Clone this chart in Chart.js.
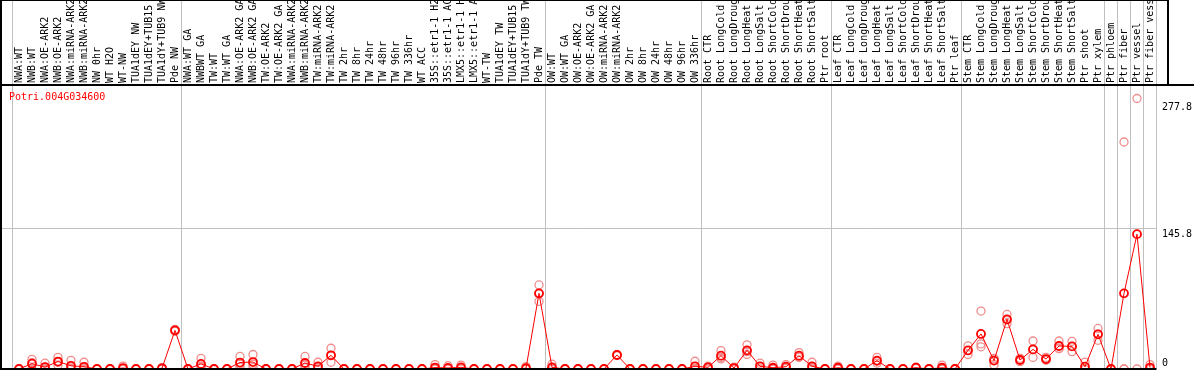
<!DOCTYPE html>
<html><head><meta charset="utf-8">
<script src="https://cdn.jsdelivr.net/npm/chart.js@4.4.1/dist/chart.umd.min.js"></script>
<style>html,body{margin:0;padding:0;background:#fff;overflow:hidden}#wrap{width:1194px;height:370px;position:relative}</style>
</head><body><div id="wrap"><canvas id="c" width="1194" height="370"></canvas></div>
<script>
const categories = [
  'NWA:WT','NWB:WT','NWA:OE-ARK2','NWB:OE-ARK2','NWA:miRNA-ARK2','NWB:miRNA-ARK2','NW 0hr','WT H2O','WT-NW',
  'TUA1dEY NW','TUA1dEY+TUB15 NW','TUA1dY+TUB9 NW','Pde NW',
  'NWA:WT GA','NWBWT GA','TW:WT','TW:WT GA','NWA:OE-ARK2 GA','NWB:OE-ARK2 GA','TW:OE-ARK2','TW:OE-ARK2 GA',
  'NWA:miRNA-ARK2','NWB:miRNA-ARK2','TW:miRNA-ARK2','TW:miRNA-ARK2','TW 2hr','TW 8hr','TW 24hr','TW 48hr','TW 96hr','TW 336hr',
  'WT ACC','35S::etr1-1 H2O','35S::etr1-1 ACC','LMX5::etr1-1 H2O','LMX5::etr1-1 ACC','WT-TW',
  'TUA1dEY TW','TUA1dEY+TUB15 TW','TUA1dY+TUB9 TW','Pde TW',
  'OW:WT','OW:WT GA','OW:OE-ARK2','OW:OE-ARK2 GA','OW:miRNA-ARK2','OW:miRNA-ARK2','OW 2hr','OW 8hr','OW 24hr','OW 48hr','OW 96hr','OW 336hr',
  'Root CTR','Root LongCold','Root LongDrought','Root LongHeat','Root LongSalt','Root ShortCold','Root ShortDrought','Root ShortHeat','Root ShortSalt','Ptr root',
  'Leaf CTR','Leaf LongCold','Leaf LongDrought','Leaf LongHeat','Leaf LongSalt','Leaf ShortCold','Leaf ShortDrought','Leaf ShortHeat','Leaf ShortSalt','Ptr leaf',
  'Stem CTR','Stem LongCold','Stem LongDrought','Stem LongHeat','Stem LongSalt','Stem ShortCold','Stem ShortDrought','Stem ShortHeat','Stem ShortSalt',
  'Ptr shoot','Ptr xylem','Ptr phloem','Ptr fiber','Ptr vessel','Ptr fiber vessel'
];
const meanValues = [
  0,5.5,2,7.7,3.3,2.3,0,0,1,0,0,0.7,40,
  0,5.3,0,0,6.7,7.2,0,0,0,6.2,2.8,14.2,0,0,0,0,0,0,0,1.5,1.1,1.7,0,0,0,0,0.8,78.3,
  1.7,0,0,0,0,14.5,0,0,0,0,0,2.8,
  1.7,13.8,1,19.3,2.8,1.3,2.4,13.8,2.8,0,
  1.3,0,0,8.7,0,0,1.4,0,1.3,0,
  19.3,36.3,8.7,51.4,9.3,20.3,10.3,23.8,23.4,
  2.4,35.9,0,78.3,139.6,1.5
];
const rep1 = [
  0,10,6,12,9,7,0,0,3,0,0,1.5,41,
  0,11,0,0,13,15,0,0,0,13,7,21.5,0,0,0,0,0,0,0,4.5,3.4,4,0,0,0,0,2.5,87,
  5,0,0,0,0,15,0,0,0,0,0,8,
  3,19,2,25,6,4,4.5,17,7,0,
  3,0,0,12,0,0,2,0,4,0,
  24,60,11,56.5,11,29,12,29,28.6,
  7.2,42,0,235,280,4.5
];
const rep2 = [
  0,6.5,0,7,1,0,0,0,0,0,0,0.5,40,
  0,3,0,0,5,5,0,0,0,4,1.5,14,0,0,0,0,0,0,0,0,0,1,0,0,0,0,0,78,
  0,0,0,0,0,14.5,0,0,0,0,0,0.5,
  2,12,1,18,2.5,0,2,12.5,1.5,0,
  1,0,0,8,0,0,1.5,0,0,0,
  19,26,10.5,51,9.3,20,10,21.5,23.5,
  0,36,0,0,0,0
];
const rep3 = [
  0,0,0,4,0,0,0,0,0,0,0,0,39,
  0,2,0,0,2,1.5,0,0,0,1.5,0,7,0,0,0,0,0,0,0,0,0,0,0,0,0,0,0,70,
  0,0,0,0,0,14,0,0,0,0,0,0,
  0,10.5,0,15,0,0,0.7,12,0,0,
  0,0,0,6,0,0,0.7,0,0,0,
  15,23,4.5,47,7.6,12,9,21,18,
  0,29.7,0,0,null,0
];
const yTickValues = [277.8, 145.8, 0];
const gridValue = 145.8;
const groupBreaks = [-0.5, 12.5, 40.5, 52.5, 62.5, 72.5, 83.5, 84.5, 85.5, 86.5, 87.5];
const geneName = 'Potri.004G034600';

const MONO = "'DejaVu Sans Mono', 'Liberation Mono', monospace";
const RED = '#ff0000';
const PINK = '#f08c8c';

const decorPlugin = {
  id: 'decor',
  beforeDraw(chart) {
    const ctx = chart.ctx;
    ctx.save();
    ctx.fillStyle = '#fff';
    ctx.fillRect(0, 0, chart.width, chart.height);
    ctx.restore();
  },
  beforeDatasetsDraw(chart) {
    const ctx = chart.ctx, x = chart.scales.x, y = chart.scales.y, a = chart.chartArea;
    ctx.save();
    ctx.strokeStyle = '#c0c0c0';
    ctx.lineWidth = 1;
    groupBreaks.forEach(b => {
      const px = Math.round(x.getPixelForValue(b)) - 0.5;
      ctx.beginPath(); ctx.moveTo(px, 0); ctx.lineTo(px, a.bottom); ctx.stroke();
    });
    const gy = Math.round(y.getPixelForValue(gridValue)) + 0.5;
    ctx.beginPath(); ctx.moveTo(0, gy); ctx.lineTo(a.right, gy); ctx.stroke();
    ctx.restore();
  },
  afterDraw(chart) {
    const ctx = chart.ctx, y = chart.scales.y, a = chart.chartArea;
    ctx.save();
    ctx.fillStyle = '#000';
    ctx.fillRect(0, 0, 2, chart.height);
    ctx.fillRect(0, 0, 1169, 1);
    ctx.fillRect(1167, 0, 2, a.top);
    ctx.fillRect(0, a.top - 1, chart.width, 2);
    ctx.fillRect(0, a.bottom - 1, a.right, 2);
    ctx.font = '10px ' + MONO;
    ctx.textBaseline = 'top';
    ctx.textAlign = 'left';
    yTickValues.forEach(v => {
      let ty = y.getPixelForValue(v) + 1.5;
      ty = Math.min(ty, a.bottom - 11);
      ctx.fillText(String(v), 1162, ty);
    });
    ctx.fillStyle = RED;
    ctx.textBaseline = 'alphabetic';
    ctx.fillText(geneName, 9, 100);
    ctx.restore();
  }
};

const repDataset = (data) => ({
  data, showLine: false, pointRadius: 4, pointHoverRadius: 4,
  pointBorderColor: PINK, pointBackgroundColor: 'rgba(0,0,0,0)', pointBorderWidth: 1.3,
  borderColor: PINK, clip: false
});

new Chart(document.getElementById('c'), {
  type: 'line',
  data: {
    labels: categories,
    datasets: [
      { data: meanValues, borderColor: RED, borderWidth: 1, tension: 0,
        pointRadius: 4, pointHoverRadius: 4, pointBorderColor: RED, pointBorderWidth: 1.8,
        pointBackgroundColor: 'rgba(0,0,0,0)', clip: false },
      repDataset(rep1), repDataset(rep2), repDataset(rep3)
    ]
  },
  options: {
    responsive: false, animation: false, devicePixelRatio: 1,
    layout: { autoPadding: false, padding: { left: 12.5, right: 37.5, top: 0, bottom: 1 } },
    plugins: { legend: { display: false }, tooltip: { enabled: false } },
    events: [],
    scales: {
      x: {
        type: 'category', position: 'top', offset: true,
        grid: { display: false, drawTicks: false }, border: { display: false },
        ticks: { autoSkip: false, minRotation: 90, maxRotation: 90, padding: 2, labelOffset: 12, color: '#000',
                 font: { family: MONO, size: 10 } },
        afterFit(s) { s.height = 85; s.paddingLeft = 0; s.paddingRight = 0; }
      },
      y: { display: false, min: 0, max: 294 }
    }
  },
  plugins: [decorPlugin]
});
</script></body></html>
